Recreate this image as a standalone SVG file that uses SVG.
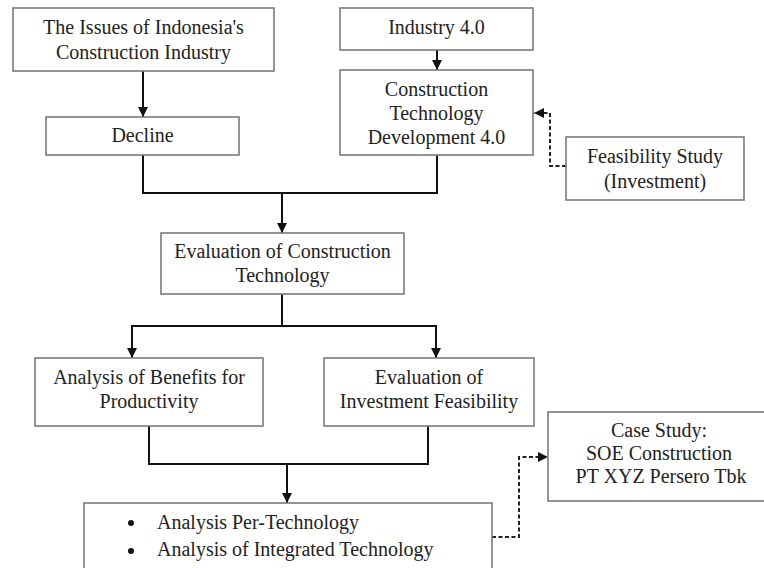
<svg xmlns="http://www.w3.org/2000/svg" width="764" height="568" viewBox="0 0 764 568">
<style>
.box{fill:#fff;stroke:#7a7a7a;stroke-width:1.6}
text{font-family:'Liberation Serif','Times New Roman','DejaVu Serif',serif;font-size:20px;fill:#222}
.t{text-anchor:middle}
.c{fill:none;stroke:#111;stroke-width:2}
.d{fill:none;stroke:#222;stroke-width:2;stroke-dasharray:4 2.5}
</style>
<defs>
<marker id="ah" viewBox="0 0 10 10" refX="10" refY="5" markerWidth="10" markerHeight="10" markerUnits="userSpaceOnUse" orient="auto">
<path d="M0,0 L10,5 L0,10 z" fill="#111"/>
</marker>
</defs>
<rect width="764" height="568" fill="#fff"/>
<g id="connectors">
<path class="c" d="M143,71 V117" marker-end="url(#ah)"/>
<path class="c" d="M437,50 V70" marker-end="url(#ah)"/>
<path class="c" d="M143,155 V193 H437 V155"/>
<path class="c" d="M282,193 V233" marker-end="url(#ah)"/>
<path class="c" d="M282,294 V326 H436 V358" marker-end="url(#ah)"/>
<path class="c" d="M282,326 H132 V358" marker-end="url(#ah)"/>
<path class="c" d="M149,426 V464 H428 V426"/>
<path class="c" d="M287,464 V503" marker-end="url(#ah)"/>
<path class="d" d="M566,166 H550 V113 H534" marker-end="url(#ah)"/>
<path class="d" d="M492,537 H519 V457 H548" marker-end="url(#ah)"/>
</g>
<g id="issues">
<rect class="box" x="13" y="8" width="261" height="63"/>
<text class="t" x="143.5" y="34" font-family="Liberation Serif, serif">The Issues of Indonesia's</text>
<text class="t" x="143.5" y="59" font-family="Liberation Serif, serif">Construction Industry</text>
</g>
<g id="decline">
<rect class="box" x="46" y="117" width="193" height="38"/>
<text class="t" x="142.5" y="142" font-family="Liberation Serif, serif">Decline</text>
</g>
<g id="industry">
<rect class="box" x="340" y="8" width="193" height="42"/>
<text class="t" x="436.5" y="34" font-family="Liberation Serif, serif">Industry 4.0</text>
</g>
<g id="ctd">
<rect class="box" x="340" y="70" width="193" height="85"/>
<text class="t" x="436.5" y="96" font-family="Liberation Serif, serif">Construction</text>
<text class="t" x="436.5" y="120" font-family="Liberation Serif, serif">Technology</text>
<text class="t" x="436.5" y="144" font-family="Liberation Serif, serif">Development 4.0</text>
</g>
<g id="feasibility">
<rect class="box" x="566" y="137" width="178" height="63"/>
<text class="t" x="655" y="163" font-family="Liberation Serif, serif">Feasibility Study</text>
<text class="t" x="655" y="188" font-family="Liberation Serif, serif">(Investment)</text>
</g>
<g id="evalct">
<rect class="box" x="161" y="233" width="243" height="61"/>
<text class="t" x="282.5" y="258" font-family="Liberation Serif, serif">Evaluation of Construction</text>
<text class="t" x="282.5" y="282" font-family="Liberation Serif, serif">Technology</text>
</g>
<g id="benefits">
<rect class="box" x="35" y="358" width="228" height="68"/>
<text class="t" x="149" y="384" font-family="Liberation Serif, serif">Analysis of Benefits for</text>
<text class="t" x="149" y="408" font-family="Liberation Serif, serif">Productivity</text>
</g>
<g id="evalinv">
<rect class="box" x="324" y="358" width="210" height="68"/>
<text class="t" x="429" y="384" font-family="Liberation Serif, serif">Evaluation of</text>
<text class="t" x="429" y="408" font-family="Liberation Serif, serif">Investment Feasibility</text>
</g>
<g id="analysis">
<rect class="box" x="84" y="503" width="408" height="80"/>
<circle cx="131" cy="523" r="3" fill="#111"/>
<circle cx="131" cy="551" r="3" fill="#111"/>
<text x="157" y="529" font-family="Liberation Serif, serif">Analysis Per-Technology</text>
<text x="157" y="556" font-family="Liberation Serif, serif">Analysis of Integrated Technology</text>
</g>
<g id="casestudy">
<rect class="box" x="548" y="412" width="230" height="89"/>
<text class="t" x="659" y="437" font-family="Liberation Serif, serif">Case Study:</text>
<text class="t" x="659" y="460" font-family="Liberation Serif, serif">SOE Construction</text>
<text class="t" x="661" y="483" font-family="Liberation Serif, serif">PT XYZ Persero Tbk</text>
</g>
</svg>
